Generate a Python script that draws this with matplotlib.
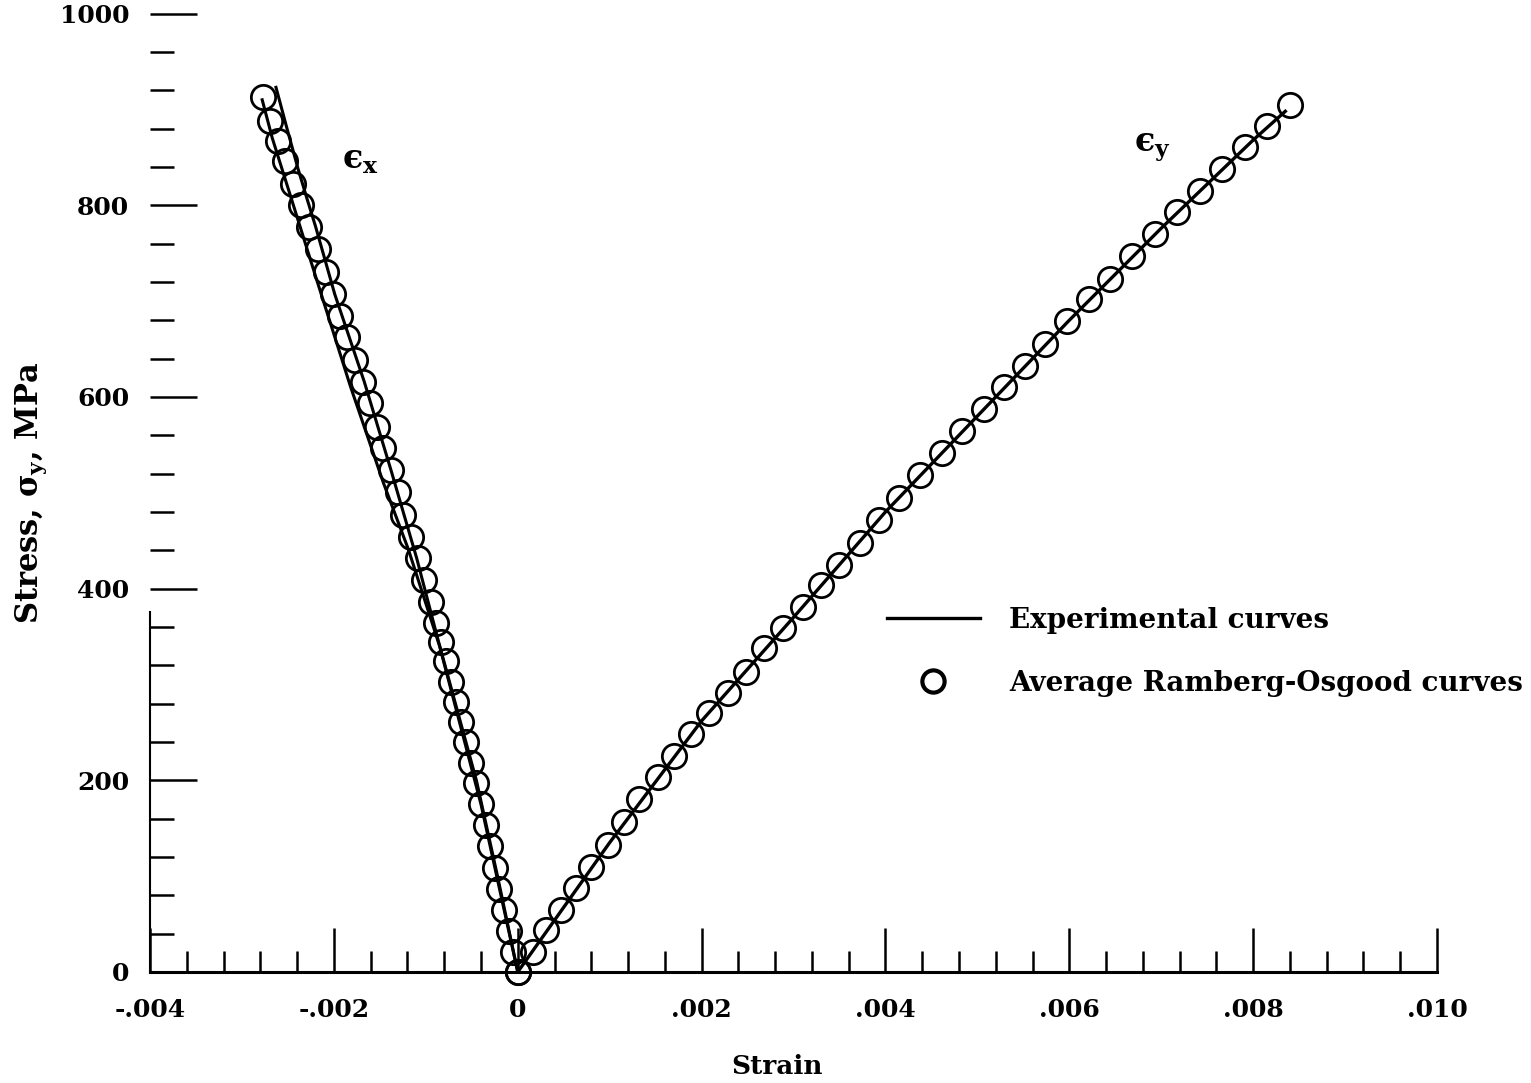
import matplotlib
matplotlib.use("Agg")
import matplotlib.pyplot as plt
from matplotlib.ticker import MultipleLocator, FixedLocator, FixedFormatter
from matplotlib.lines import Line2D

plt.rcParams['font.family'] = 'DejaVu Serif'
plt.rcParams['font.weight'] = 'bold'
plt.rcParams['axes.labelweight'] = 'bold'
plt.rcParams['mathtext.fontset'] = 'dejavuserif'

# Average Ramberg-Osgood curves (circles), strain and stress in MPa
ro_stress_y = [0, 21, 44, 65, 88, 110, 133, 157, 180, 203, 225, 248, 270, 291, 313,
               338, 359, 381, 404, 425, 448, 472, 495, 519, 542, 564, 587, 610, 632,
               655, 679, 702, 723, 747, 770, 793, 815, 838, 861, 883, 905]
ro_strain_y = [0, 0.000163, 0.000305, 0.000469, 0.000632, 0.000796, 0.000981, 0.001155,
               0.001319, 0.001526, 0.0017, 0.001886, 0.002082, 0.002289, 0.002485,
               0.002681, 0.002888, 0.003106, 0.003302, 0.003499, 0.00372, 0.00393,
               0.00415, 0.004371, 0.00461, 0.004828, 0.005068, 0.005286, 0.005515,
               0.005733, 0.005973, 0.006213, 0.006441, 0.006681, 0.006932, 0.007172,
               0.007422, 0.007662, 0.007913, 0.008153, 0.008403]

ro_stress_x = [0, 21, 43, 65, 87, 109, 131, 153, 175, 197, 218, 240, 261, 282, 303,
               324, 344, 364, 386, 409, 432, 454, 477, 501, 524, 547, 569, 594, 616,
               639, 662, 684, 707, 730, 754, 777, 800, 822, 846, 867, 888, 913]
ro_strain_x = [0, -0.00005, -0.0001, -0.00015, -0.0002, -0.00025, -0.0003, -0.00035,
               -0.0004, -0.000455, -0.00051, -0.000565, -0.00062, -0.000675, -0.00073,
               -0.000785, -0.000839, -0.000894, -0.000948, -0.001025, -0.00109, -0.001166,
               -0.001243, -0.001308, -0.001384, -0.001461, -0.001526, -0.001603, -0.001679,
               -0.001766, -0.001853, -0.001929, -0.002006, -0.002082, -0.002175, -0.002267,
               -0.002356, -0.00245, -0.002529, -0.002605, -0.002692, -0.002768]

# Experimental curves (solid lines), two specimens on the x side
exp_strain_x1 = [0, -0.00022, -0.00045, -0.00086, -0.0011, -0.00138, -0.00167, -0.00199,
                 -0.0022, -0.00229, -0.00239, -0.00251, -0.00263]
exp_stress_x1 = [0, 100, 200, 344, 432, 524, 616, 707, 778, 806, 838, 880, 923]
exp_strain_x2 = [0, -0.0004, -0.00085, -0.00119, -0.00146, -0.00182, -0.00218, -0.00246,
                 -0.00267, -0.00278]
exp_stress_x2 = [0, 175, 340, 441, 510, 611, 720, 806, 870, 910]
exp_strain_y = [0, 0.001, 0.002, 0.003, 0.004, 0.005, 0.006, 0.007, 0.008, 0.00835]
exp_stress_y = [0, 135, 262, 370, 480, 580, 680, 776, 868, 898]

x_ticks = [-0.004, -0.002, 0, 0.002, 0.004, 0.006, 0.008, 0.010]
x_labels = ['-.004', '-.002', '0', '.002', '.004', '.006', '.008', '.010']
y_ticks = [0, 200, 400, 600, 800, 1000]

fig = plt.figure(figsize=(15.31, 10.83), dpi=100)
ax = fig.add_axes([0.098, 0.1025, 0.8406, 0.885])

ax.plot(exp_strain_x1, exp_stress_x1, color='black', linewidth=2.2, zorder=3)
ax.plot(exp_strain_x2, exp_stress_x2, color='black', linewidth=2.2, zorder=3)
ax.plot(exp_strain_y, exp_stress_y, color='black', linewidth=2.4, zorder=3)
ax.plot(ro_strain_x, ro_stress_x, linestyle='none', marker='o', markersize=17.5,
        markerfacecolor='none', markeredgecolor='black', markeredgewidth=2.0,
        clip_on=False, zorder=4)
ax.plot(ro_strain_y, ro_stress_y, linestyle='none', marker='o', markersize=17.5,
        markerfacecolor='none', markeredgecolor='black', markeredgewidth=2.0,
        clip_on=False, zorder=4)

ax.set_xlim(-0.004, 0.010)
ax.set_ylim(0, 1000)

ax.spines['top'].set_visible(False)
ax.spines['right'].set_visible(False)
ax.spines['bottom'].set_linewidth(2.2)
ax.spines['left'].set_linewidth(1.5)
ax.spines['left'].set_bounds(0, 376)

ax.xaxis.set_major_locator(FixedLocator(x_ticks))
ax.xaxis.set_major_formatter(FixedFormatter(x_labels))
ax.xaxis.set_minor_locator(MultipleLocator(0.0004))
ax.yaxis.set_major_locator(FixedLocator(y_ticks))
ax.yaxis.set_minor_locator(MultipleLocator(40))

ax.tick_params(axis='x', which='major', direction='in', length=32, width=1.8,
               labelsize=18, pad=19)
ax.tick_params(axis='x', which='minor', direction='in', length=15, width=1.8)
ax.tick_params(axis='y', which='major', direction='in', length=34, width=1.8,
               labelsize=18, pad=15)
ax.tick_params(axis='y', which='minor', direction='in', length=17, width=1.8)

ax.set_xlabel('Strain', fontsize=19, labelpad=23)
ax.xaxis.label.set_x(0.487)
ax.set_ylabel('Stress, $\\mathregular{\u03c3_y}$, MPa', fontsize=22, labelpad=8)

ax.text(-0.00171, 848, '$\\mathregular{\u03f5_x}$', fontsize=24, ha='center', va='center')
ax.text(0.0069, 860, '$\\mathregular{\u03f5_y}$', fontsize=24, ha='center', va='center')

handles = [Line2D([], [], color='black', linewidth=2.4),
           Line2D([], [], linestyle='none', marker='o', markersize=16,
                  markerfacecolor='none', markeredgecolor='black', markeredgewidth=3)]
ax.legend(handles, ['Experimental curves', 'Average Ramberg-Osgood curves'],
          loc='center left', bbox_to_anchor=(0.5726, 0.334), frameon=False,
          prop={'size': 20, 'weight': 'bold'}, handlelength=3.35, handletextpad=1.05,
          labelspacing=1.3, borderpad=0, borderaxespad=0, numpoints=1)

fig.savefig('out.png', dpi=100)
